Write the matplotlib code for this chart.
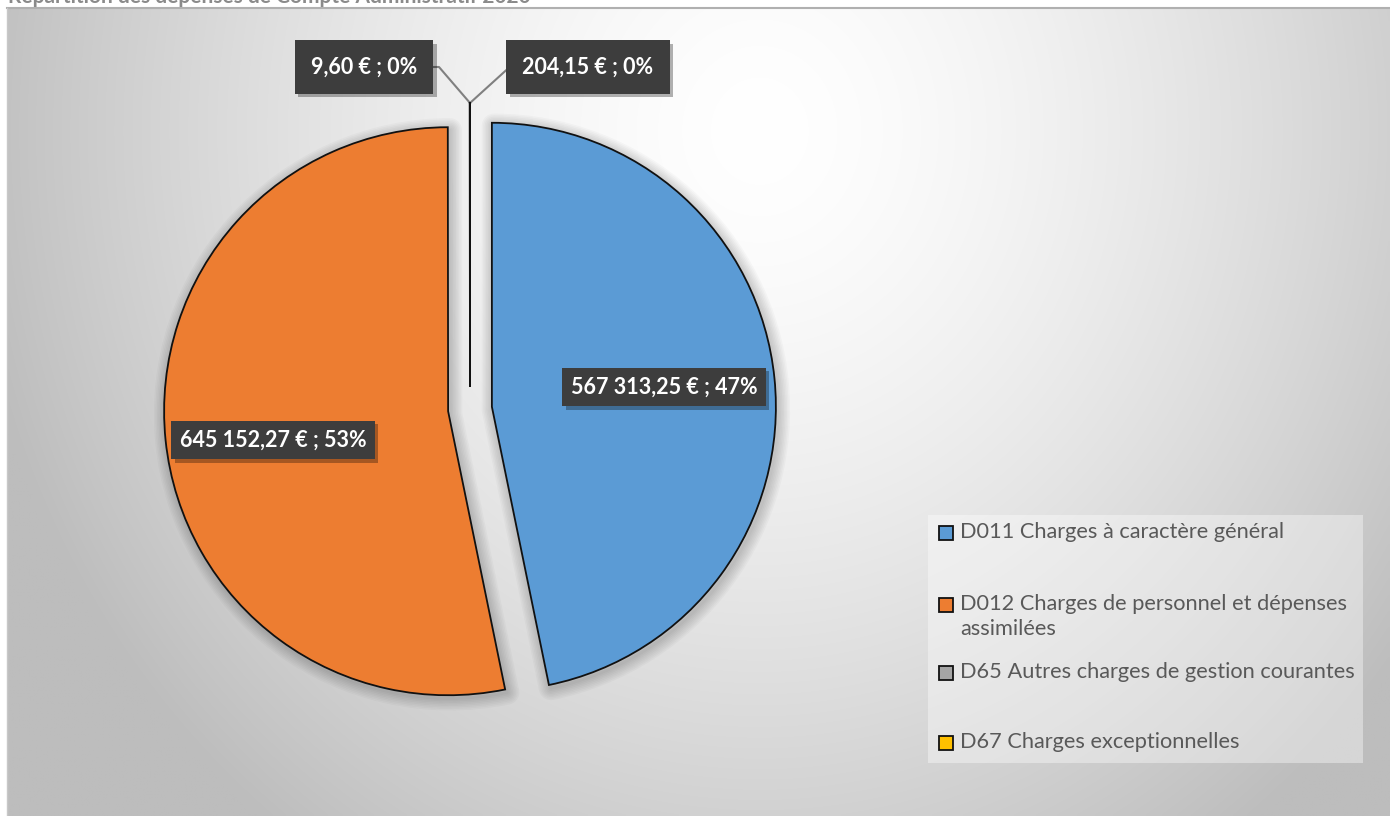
import numpy as np
import matplotlib
matplotlib.use("Agg")
import matplotlib.pyplot as plt
import matplotlib.patheffects as pe
from matplotlib.patches import Rectangle, Wedge

# ---------------- data ----------------
title = "Répartition des dépenses de Compte Administratif 2020"
categories = [
    "D011 Charges à caractère général",
    "D012 Charges de personnel et dépenses\nassimilées",
    "D65 Autres charges de gestion courantes",
    "D67 Charges exceptionnelles",
]
values = [567313.25, 645152.27, 204.15, 9.60]
colors = ["#5B9BD5", "#ED7D31", "#A5A5A5", "#FFC000"]

FONT = ["Lato", "DejaVu Sans"]
plt.rcParams["font.family"] = FONT

W, H = 1390, 816
fig = plt.figure(figsize=(W / 100, H / 100), dpi=100)
fig.patch.set_facecolor("white")
ax = fig.add_axes([0, 0, 1, 1])


def Y(y):
    return H - y


# ---------------- background gradient ----------------
x0, y0 = 7, 8
xs = np.linspace(x0, W, 400)
ys = np.linspace(y0, H, 240)
XX, YY = np.meshgrid(xs, ys)
d = np.sqrt(((XX - 760) / 800.0) ** 2 + ((YY - 130) / 880.0) ** 2)
d = np.clip(d, 0, 1)
g = (255 - 66 * d ** 1.5) / 255.0
img = np.dstack([g, g, g])
ax.imshow(img, extent=[x0, W, Y(H), Y(y0)], origin="upper", aspect="auto",
          zorder=0, interpolation="bilinear")
ax.plot([x0, W], [Y(y0), Y(y0)], color="#b0b0b0", lw=1.5, zorder=0.2)
ax.plot([x0, x0], [Y(y0), Y(H)], color="#c8c8c8", lw=1.0, zorder=0.2)

# ---------------- pie ----------------
cx, cy = 470, Y(409)
R = 284
expl = 22
wedges, _ = ax.pie(values, colors=colors, startangle=90, counterclock=False,
                   center=(cx, cy), radius=R, explode=[expl] * len(values),
                   wedgeprops=dict(edgecolor="#111111", linewidth=1.3),
                   frame=True)
total = sum(values)
for v, w in zip(values, wedges):
    w.set_zorder(3)
    if v / total < 0.01:
        continue
    # soft shadow / glow
    for k in range(1, 9):
        sh = Wedge((w.center[0] + 2, w.center[1] - 3), w.r, w.theta1, w.theta2,
                   fc="none", ec="black", lw=2.2 * k, alpha=0.022,
                   zorder=1, joinstyle="round")
        ax.add_patch(sh)

# ---------------- data labels ----------------


def fmt(v):
    s = f"{v:,.2f}".replace(",", " ").replace(".", ",")
    return f"{s} € ; {round(v / total * 100):d}%"


label_pos = [(664, 387), (273, 440), (588, 67), (364, 67)]
label_pad = [0.40, 0.40, 0.75, 0.75]
for v, (lx, ly), pad in zip(values, label_pos, label_pad):
    txt = fmt(v)
    t = ax.text(lx, Y(ly), txt, color="white", fontsize=15.5, fontweight="bold",
                ha="center", va="center", zorder=5,
                bbox=dict(boxstyle=f"square,pad={pad}", fc="#3d3d3d", ec="none"))
    t.get_bbox_patch().set_path_effects(
        [pe.SimplePatchShadow(offset=(2.5, -2.5), shadow_rgbFace="black",
                              alpha=0.3), pe.Normal()])

# leader lines for the tiny slices
tip_x = cx
tip_y = cy + expl + R
ax.plot([tip_x, 513], [tip_y, Y(64)], color="#808080", lw=1.5, zorder=2.5)
ax.plot([tip_x, 439, 432], [tip_y, Y(67), Y(67)], color="#808080", lw=1.5,
        zorder=2.5)

# ---------------- legend ----------------
ax.add_patch(Rectangle((928, Y(763)), 435, 248, fc="white", ec="none",
                       alpha=0.38, zorder=2))
entry_y = [533, 605, 673, 743]
for lab, col, ey in zip(categories, colors, entry_y):
    ax.add_patch(Rectangle((939, Y(ey) - 7), 14, 14, fc=col, ec="#111111",
                           lw=1.3, zorder=3))
    ax.text(960, Y(ey) + 11, lab, color="#595959", fontsize=15.7,
            ha="left", va="top", linespacing=1.3, zorder=3)

# ---------------- title ----------------
fig.text(8 / W, 1 - 3 / H, title, color="#8a8a8a", fontsize=15,
         fontweight="bold", ha="left", va="baseline")

ax.set_xlim(0, W)
ax.set_ylim(0, H)
ax.set_aspect("auto")
ax.axis("off")

fig.savefig("out.png", dpi=100)
